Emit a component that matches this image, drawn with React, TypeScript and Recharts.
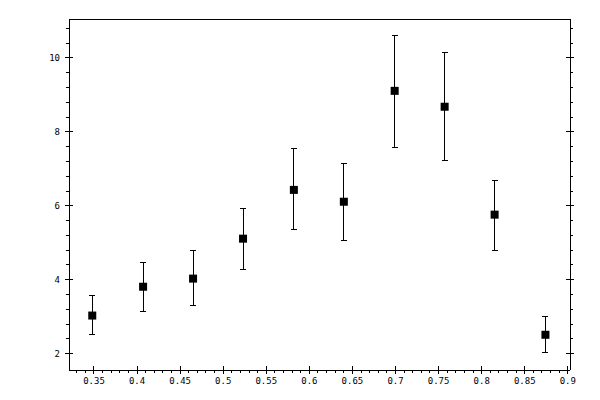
import React from "react";
import { ErrorBar, Scatter, ScatterChart, XAxis, YAxis } from "recharts";

const xValues = [0.348, 0.407, 0.465, 0.523, 0.582, 0.64, 0.699, 0.757, 0.815, 0.874];
const yValues = [3.03, 3.81, 4.03, 5.11, 6.43, 6.11, 9.11, 8.68, 5.76, 2.51];
const yLow = [2.51, 3.14, 3.3, 4.27, 5.35, 5.05, 7.59, 7.22, 4.79, 2.04];
const yHigh = [3.56, 4.46, 4.78, 5.94, 7.54, 7.14, 10.62, 10.14, 6.69, 3.0];

const xMajor = [0.35, 0.4, 0.45, 0.5, 0.55, 0.6, 0.65, 0.7, 0.75, 0.8, 0.85, 0.9];
const yMajor = [2, 4, 6, 8, 10];

// minor ticks: 4 between majors
const xTicks: number[] = [];
for (let i = 33; i <= 90; i++) xTicks.push(i / 100);
const yTicks: number[] = [];
for (let i = 5; i <= 27; i++) yTicks.push(Math.round(i * 0.4 * 10) / 10);

const data = xValues.map((x, i) => ({
  x,
  y: yValues[i],
  err: [yValues[i] - yLow[i], yHigh[i] - yValues[i]],
}));

const isMajor = (v: number, list: number[]) => list.some((m) => Math.abs(m - v) < 1e-6);
const fmt = (v: number) => String(Number(v.toFixed(2)));

const font = { fontFamily: "DejaVu Sans Mono", fontSize: 9, fill: "#000" };

function XTick(props: any) {
  const { x, y, payload, top } = props;
  const major = isMajor(payload.value, xMajor);
  const out = top ? -1 : 1;
  return (
    <g>
      <line
        x1={x}
        x2={x}
        y1={major ? y - out * 4 : y}
        y2={y + out * (major ? 4 : 3)}
        stroke="#000"
        shapeRendering="crispEdges"
      />
      {major && !top && (
        <text x={x} y={y + 14} textAnchor="middle" {...font}>
          {fmt(payload.value)}
        </text>
      )}
    </g>
  );
}

function YTick(props: any) {
  const { x, y, payload, right } = props;
  const major = isMajor(payload.value, yMajor);
  const out = right ? 1 : -1;
  return (
    <g>
      <line
        x1={major ? x - out * 4 : x}
        x2={x + out * (major ? 4 : 3)}
        y1={y}
        y2={y}
        stroke="#000"
        shapeRendering="crispEdges"
      />
      {major && !right && (
        <text x={x - 9} y={y + 3} textAnchor="end" {...font}>
          {fmt(payload.value)}
        </text>
      )}
    </g>
  );
}

const Square = (props: any) => (
  <rect x={props.cx - 4} y={props.cy - 4} width={8} height={8} fill="#000" />
);

const axisLine = { stroke: "#000", shapeRendering: "crispEdges" };

export default function App() {
  return (
    <div style={{ position: "absolute", left: 0, top: 0, width: 600, height: 400, background: "#fff" }}>
      <ScatterChart width={600} height={400} margin={{ top: 0, right: 0, bottom: 0, left: 0 }}>
        <XAxis
          xAxisId="b"
          dataKey="x"
          type="number"
          domain={[0.321, 0.9025]}
          ticks={xTicks}
          interval={0}
          height={30}
          tickSize={0}
          tickMargin={0}
          tickLine={false}
          axisLine={axisLine}
          tick={<XTick />}
          allowDataOverflow
        />
        <XAxis
          xAxisId="t"
          orientation="top"
          type="number"
          domain={[0.321, 0.9025]}
          ticks={xTicks}
          interval={0}
          height={19}
          tickSize={0}
          tickMargin={0}
          tickLine={false}
          axisLine={axisLine}
          tick={<XTick top />}
          allowDataOverflow
        />
        <YAxis
          yAxisId="l"
          dataKey="y"
          type="number"
          domain={[1.557, 11.054]}
          ticks={yTicks}
          interval={0}
          width={69}
          tickSize={0}
          tickMargin={0}
          tickLine={false}
          axisLine={axisLine}
          tick={<YTick />}
          allowDataOverflow
        />
        <YAxis
          yAxisId="r"
          orientation="right"
          type="number"
          domain={[1.557, 11.054]}
          ticks={yTicks}
          interval={0}
          width={30}
          tickSize={0}
          tickMargin={0}
          tickLine={false}
          axisLine={axisLine}
          tick={<YTick right />}
          allowDataOverflow
        />
        <Scatter data={data} xAxisId="b" yAxisId="l" shape={<Square />} isAnimationActive={false}>
          <ErrorBar
            dataKey="err"
            direction="y"
            width={3}
            stroke="#000"
            strokeWidth={1}
            shapeRendering="crispEdges"
            isAnimationActive={false}
          />
        </Scatter>
      </ScatterChart>
    </div>
  );
}
